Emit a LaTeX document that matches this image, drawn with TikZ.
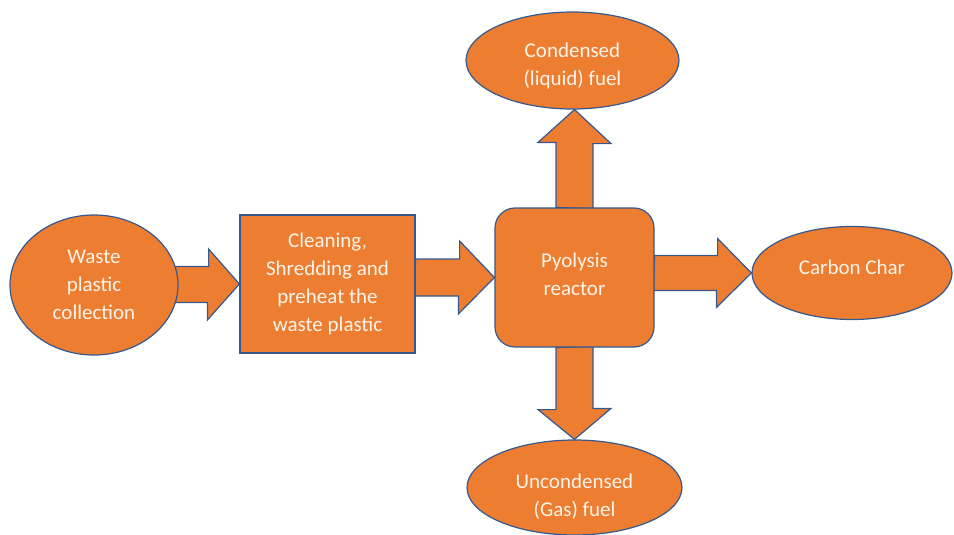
\documentclass[tikz,border=0pt]{standalone}
\usepackage{fontspec}
\setmainfont{Carlito}
\usetikzlibrary{shapes.geometric,backgrounds}

\definecolor{flow}{HTML}{ED7D31}
\definecolor{rim}{HTML}{35598F}
\definecolor{label}{HTML}{FFF4EA}

\begin{document}
\begin{tikzpicture}[x=1pt,y=-1pt,
    box/.style={draw=rim,fill=flow,line width=1.2pt,text=label,align=center,
        inner sep=0pt,font=\fontsize{21}{28}\selectfont},
    oval/.style={box,ellipse},
    blockarrow/.style={draw=rim,fill=flow,line width=1.2pt,line join=miter}]
\useasboundingbox (0,0) rectangle (954,535);

\node (waste) [oval,minimum width=168pt,minimum height=140pt] at (94,285)
    {Waste\\plastic\\collection};
\node (clean) [box,minimum width=175pt,minimum height=138pt] at (327.5,284)
    {Cleaning,\\Shredding and\\preheat the\\waste plastic};
\node (reactor) [box,rounded corners=20pt,minimum width=159pt,minimum height=139pt]
    at (574.5,277.5) {Pyolysis\\reactor\\[-21pt]};
\node (carbon) [oval,minimum width=200pt,minimum height=93pt] at (852,273)
    {Carbon Char\\[-16pt]};
\node (cond) [oval,minimum width=213pt,minimum height=97pt] at (572.5,60.5)
    {\mbox{}\\[-2pt]Condensed\\(liquid) fuel};
\node (uncond) [oval,minimum width=215pt,minimum height=95pt] at (574.5,487.5)
    {\mbox{}\\[4pt]Uncondensed\\(Gas) fuel};

\begin{scope}[on background layer]
\draw[blockarrow] (waste.east) ++(-4,-18.5) -- ++(34,0) -- ++(0,-17.5)
    -- (clean.west) -- ++(-32,36) -- ++(0,-17.5) -- ++(-34,0) -- cycle;
\draw[blockarrow] (clean.east |- reactor.west) ++(0,-18.5) -- ++(44,0) -- ++(0,-18)
    -- (reactor.west) -- ++(-36,36.5) -- ++(0,-18) -- ++(-44,0) -- cycle;
\draw[blockarrow] (reactor.east |- carbon.west) ++(0,-17.5) -- ++(63,0) -- ++(0,-17)
    -- (carbon.west) -- ++(-35,34.5) -- ++(0,-17) -- ++(-63,0) -- cycle;
\draw[blockarrow] (reactor.north) ++(-18.5,0) -- ++(0,-65) -- ++(-18,0)
    -- (reactor.north |- cond.south) -- ++(36.5,34) -- ++(-18,0) -- ++(0,65) -- cycle;
\draw[blockarrow] (reactor.south) ++(-18.5,0) -- ++(0,62) -- ++(-18,0)
    -- (reactor.south |- uncond.north) -- ++(36.5,-31) -- ++(-18,0) -- ++(0,-62) -- cycle;
\end{scope}

\end{tikzpicture}
\end{document}
